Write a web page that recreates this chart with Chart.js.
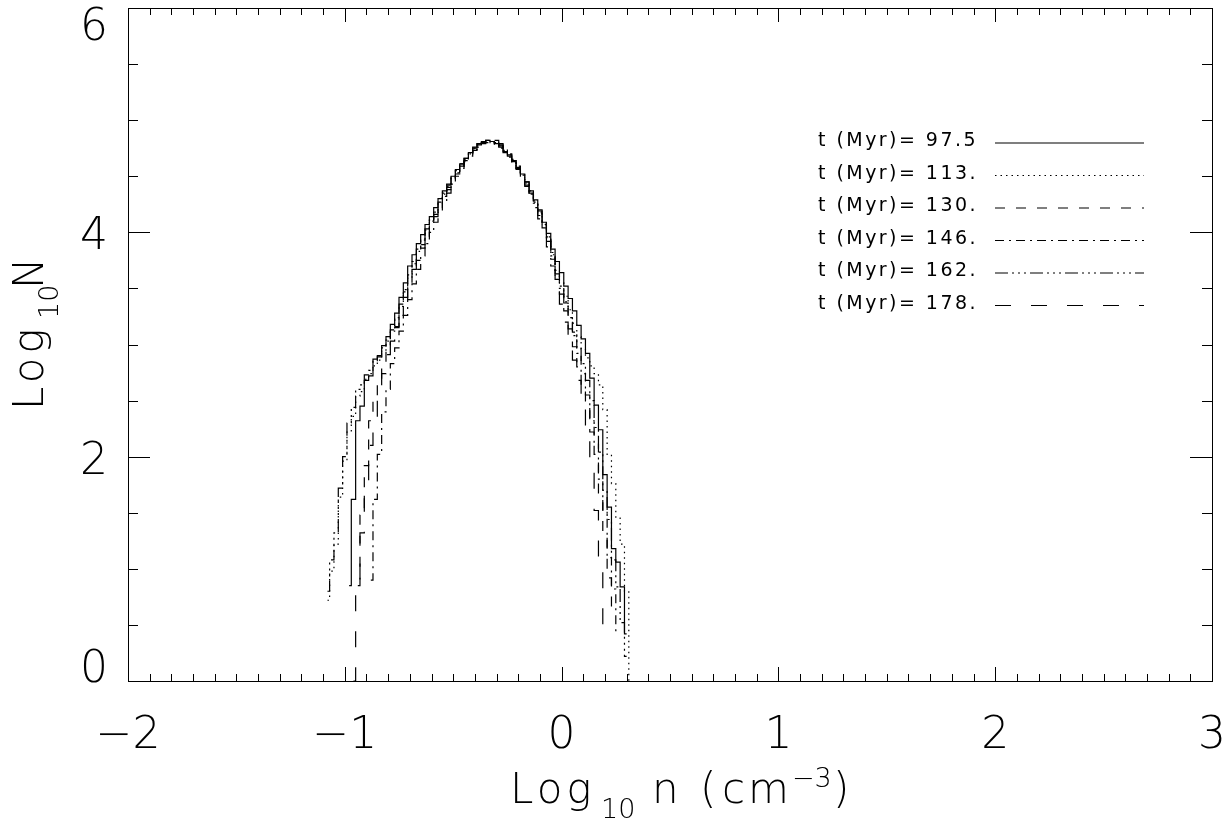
<!DOCTYPE html>
<html lang="en">
<head>
<meta charset="UTF-8">
<title>Log10 N vs Log10 n</title>
<script src="https://cdn.jsdelivr.net/npm/chart.js@4.4.1/dist/chart.umd.min.js"></script>
<style>
  html, body { margin: 0; padding: 0; background: #fff; }
  canvas { display: block; }
</style>
</head>
<body>
<canvas id="pdf-chart" width="1229" height="825"></canvas>
<script>
// bin centres, Log10 n (cm^-3)
const binCenters = [
  -1.10, -1.08, -1.06, -1.04, -1.02, -1.00, -0.98, -0.96, -0.94, -0.92,
  -0.90, -0.88, -0.86, -0.84, -0.82, -0.80, -0.78, -0.76, -0.74, -0.72,
  -0.70, -0.68, -0.66, -0.64, -0.62, -0.60, -0.58, -0.56, -0.54, -0.52,
  -0.50, -0.48, -0.46, -0.44, -0.42, -0.40, -0.38, -0.36, -0.34, -0.32,
  -0.30, -0.28, -0.26, -0.24, -0.22, -0.20, -0.18, -0.16, -0.14, -0.12,
  -0.10, -0.08, -0.06, -0.04, -0.02,  0.00,  0.02,  0.04,  0.06,  0.08,
   0.10,  0.12,  0.14,  0.16,  0.18,  0.20,  0.22,  0.24,  0.26,  0.28,
   0.30,  0.32,  0.34
];

// Log10 N for each snapshot
const logN_975 = [
  null, null, null, null, null, null, 0.85, 1.62, 2.32, 2.45,
  2.68, 2.72, 2.87, 2.90, 2.99, 3.07, 3.18, 3.28, 3.42, 3.55,
  3.70, 3.80, 3.90, 3.98, 4.07, 4.14, 4.22, 4.30, 4.37, 4.43,
  4.50, 4.56, 4.61, 4.66, 4.71, 4.76, 4.79, 4.81, 4.82, 4.81,
  4.79, 4.76, 4.72, 4.68, 4.63, 4.58, 4.52, 4.45, 4.37, 4.29,
  4.20, 4.09, 3.99, 3.85, 3.74, 3.64, 3.52, 3.41, 3.30, 3.17,
  3.05, 2.92, 2.70, 2.46, 2.24, 1.84, 1.55, 1.18, 1.06, 0.84,
  0.42, null, null
];
const logN_113 = [
  null, 0.72, 0.98, 1.22, 1.64, 1.96, 2.22, 2.36, 2.54, 2.58,
  2.69, 2.74, 2.81, 2.86, 2.95, 3.03, 3.12, 3.22, 3.34, 3.47,
  3.60, 3.72, 3.83, 3.93, 4.02, 4.10, 4.18, 4.26, 4.34, 4.41,
  4.48, 4.54, 4.60, 4.65, 4.70, 4.74, 4.78, 4.80, 4.81, 4.81,
  4.80, 4.77, 4.73, 4.69, 4.64, 4.58, 4.51, 4.44, 4.36, 4.27,
  4.18, 4.07, 3.96, 3.80, 3.66, 3.55, 3.43, 3.31, 3.19, 3.07,
  2.96, 2.88, 2.81, 2.74, 2.64, 2.42, 2.02, 1.76, 1.46, 1.22,
  0.80, 0.00, null
];
const logN_130 = [
  null, null, null, null, null, null, null, null, 0.85, 1.48,
  1.92, 2.32, 2.50, 2.70, 2.80, 2.94, 3.03, 3.15, 3.26, 3.38,
  3.51, 3.63, 3.75, 3.86, 3.96, 4.05, 4.14, 4.22, 4.30, 4.38,
  4.45, 4.52, 4.58, 4.64, 4.69, 4.73, 4.77, 4.80, 4.82, 4.82,
  4.81, 4.78, 4.74, 4.69, 4.64, 4.57, 4.50, 4.42, 4.34, 4.25,
  4.15, 4.04, 3.92, 3.76, 3.58, 3.45, 3.30, 3.14, 2.98, 2.80,
  2.62, 2.45, 2.22, 2.02, 1.66, 1.32, 0.92, 0.62, null, null,
  null, null, null
];
const logN_146 = [
  null, null, null, null, null, null, null, null, null, null,
  null, 0.90, 1.62, 2.02, 2.40, 2.60, 2.83, 2.97, 3.12, 3.26,
  3.40, 3.54, 3.67, 3.79, 3.90, 4.00, 4.09, 4.18, 4.27, 4.35,
  4.43, 4.50, 4.57, 4.63, 4.68, 4.73, 4.76, 4.79, 4.80, 4.80,
  4.79, 4.77, 4.74, 4.70, 4.65, 4.59, 4.52, 4.45, 4.37, 4.28,
  4.19, 4.08, 3.96, 3.82, 3.66, 3.52, 3.38, 3.24, 3.08, 2.92,
  2.74, 2.55, 2.32, 2.12, 1.80, 1.52, 1.10, 0.82, 0.45, null,
  null, null, null
];
const logN_162 = [
  null, 0.80, 1.08, 1.32, 1.72, 2.00, 2.30, 2.44, 2.60, 2.64,
  2.73, 2.77, 2.85, 2.89, 2.97, 3.04, 3.13, 3.24, 3.36, 3.49,
  3.62, 3.74, 3.85, 3.94, 4.03, 4.11, 4.19, 4.27, 4.35, 4.42,
  4.49, 4.55, 4.61, 4.66, 4.71, 4.75, 4.78, 4.80, 4.81, 4.80,
  4.78, 4.75, 4.71, 4.67, 4.62, 4.56, 4.50, 4.43, 4.35, 4.26,
  4.17, 4.06, 3.95, 3.79, 3.63, 3.50, 3.37, 3.24, 3.11, 2.97,
  2.83, 2.68, 2.50, 2.26, 2.04, 1.70, 1.44, 1.08, 0.84, 0.52,
  0.22, null, null
];
const logN_178 = [
  null, null, null, null, null, null, null, 0.00, 0.78, 1.32,
  1.70, 2.10, 2.34, 2.60, 2.74, 2.91, 3.03, 3.16, 3.29, 3.42,
  3.55, 3.67, 3.79, 3.89, 3.99, 4.08, 4.16, 4.24, 4.32, 4.40,
  4.47, 4.53, 4.59, 4.65, 4.70, 4.75, 4.79, 4.82, 4.83, 4.83,
  4.82, 4.79, 4.75, 4.70, 4.64, 4.57, 4.49, 4.41, 4.32, 4.22,
  4.12, 4.00, 3.87, 3.70, 3.52, 3.36, 3.20, 3.03, 2.86, 2.68,
  2.48, 2.26, 1.90, 1.52, 0.98, 0.50, null, null, null, null,
  null, null, null
];

const seriesLabels = ['t (Myr)= 97.5', 't (Myr)= 113.', 't (Myr)= 130.', 't (Myr)= 146.', 't (Myr)= 162.', 't (Myr)= 178.'];
const seriesValues = [logN_975, logN_113, logN_130, logN_146, logN_162, logN_178];
const seriesDash = [[], [1.5, 4], [10, 11], [9, 5, 2, 5], [13, 4, 2, 4, 2, 4, 2, 4], [16, 20]];

const xTickValues = [-2, -1, 0, 1, 2, 3];
const xTickLabels = ['\u22122', '\u22121', '0', '1', '2', '3'];
const yTickValues = [0, 2, 4, 6];
const yTickLabels = ['0', '2', '4', '6'];

const FONT = '"DejaVu Sans", "Liberation Sans", sans-serif';

// axes box, inward ticks on all four sides, labels and legend in IDL style
const idlFrame = {
  id: 'idlFrame',
  afterDatasetsDraw(chart) {
    const { ctx, chartArea: a, scales: { x, y } } = chart;
    ctx.save();
    ctx.strokeStyle = '#000';
    ctx.fillStyle = '#000';
    ctx.lineWidth = 1;
    ctx.setLineDash([]);

    const seg = (x1, y1, x2, y2) => {
      ctx.beginPath(); ctx.moveTo(x1, y1); ctx.lineTo(x2, y2); ctx.stroke();
    };

    ctx.strokeRect(a.left + 0.5, a.top + 0.5, a.right - a.left, a.bottom - a.top);

    // x ticks every 0.1
    for (let k = 0; k <= 50; k++) {
      const v = x.min + k * 0.1;
      const px = Math.round(x.getPixelForValue(v)) + 0.5;
      const len = (k % 10 === 0) ? 14 : 7;
      seg(px, a.bottom, px, a.bottom - len);
      seg(px, a.top, px, a.top + len);
    }
    // y ticks every 0.5
    for (let k = 0; k <= 12; k++) {
      const v = y.min + k * 0.5;
      const py = Math.round(y.getPixelForValue(v)) + 0.5;
      const len = (k % 4 === 0) ? 22 : 10;
      seg(a.left, py, a.left + len, py);
      seg(a.right, py, a.right - len, py);
    }

    ctx.font = '200 44px ' + FONT;
    ctx.textAlign = 'center';
    ctx.textBaseline = 'alphabetic';
    xTickValues.forEach((v, i) => {
      ctx.fillText(xTickLabels[i], x.getPixelForValue(v), a.bottom + 67);
    });
    ctx.textAlign = 'right';
    yTickValues.forEach((v, i) => {
      const py = y.getPixelForValue(v);
      let base = py + 17;
      if (i === 0) base = py + 1;
      if (i === yTickValues.length - 1) base = py + 32;
      ctx.fillText(yTickLabels[i], a.left - 20, base);
    });

    // x title: Log10 n (cm^-3)
    ctx.textAlign = 'left';
    ctx.font = '200 42px ' + FONT;
    ctx.letterSpacing = '4px';
    ctx.fillText('Log', 510, 803);
    ctx.letterSpacing = '3px';
    ctx.fillText('n', 652, 803);
    ctx.fillText('(', 700, 803);
    ctx.fillText('cm', 722, 803);
    ctx.fillText(')', 833, 803);
    ctx.letterSpacing = '0px';
    ctx.font = '200 27px ' + FONT;
    ctx.fillText('10', 601, 818);
    ctx.fillText('\u22123', 792, 787);

    // y title: Log10 N (rotated)
    ctx.save();
    ctx.translate(43, 410);
    ctx.rotate(-Math.PI / 2);
    ctx.font = '200 42px ' + FONT;
    ctx.letterSpacing = '4px';
    ctx.fillText('Log', 0, 0);
    ctx.letterSpacing = '0px';
    ctx.fillText('N', 121, 0);
    ctx.font = '200 27px ' + FONT;
    ctx.fillText('10', 91, 15);
    ctx.restore();

    // legend
    ctx.font = '19px ' + FONT;
    ctx.letterSpacing = '0px';
    const w0 = ctx.measureText(seriesLabels[0]).width;
    ctx.letterSpacing = Math.max(0, (160 - w0) / seriesLabels[0].length).toFixed(2) + 'px';
    seriesLabels.forEach((lab, i) => {
      const base = 146 + i * 32.5;
      ctx.setLineDash([]);
      ctx.fillText(lab, 818, base);
      ctx.setLineDash(seriesDash[i]);
      ctx.lineWidth = 1.2;
      seg(995, base - 3, 1144, base - 3);
    });
    ctx.restore();
  }
};

const datasets = seriesValues.map((vals, i) => ({
  label: seriesLabels[i],
  data: binCenters.map((xv, j) => ({ x: xv, y: vals[j] })),
  borderColor: '#000',
  borderWidth: 1.2,
  borderDash: seriesDash[i],
  pointRadius: 0,
  fill: false,
  stepped: 'middle',
  spanGaps: false
}));

new Chart(document.getElementById('pdf-chart').getContext('2d'), {
  type: 'line',
  data: { datasets },
  options: {
    responsive: false,
    animation: false,
    devicePixelRatio: 1,
    layout: { padding: { left: 128, right: 17, top: 8, bottom: 144 } },
    plugins: { legend: { display: false }, tooltip: { enabled: false } },
    scales: {
      x: { type: 'linear', min: -2, max: 3, display: false },
      y: { type: 'linear', min: 0, max: 6, display: false }
    }
  },
  plugins: [idlFrame]
});
</script>
</body>
</html>
